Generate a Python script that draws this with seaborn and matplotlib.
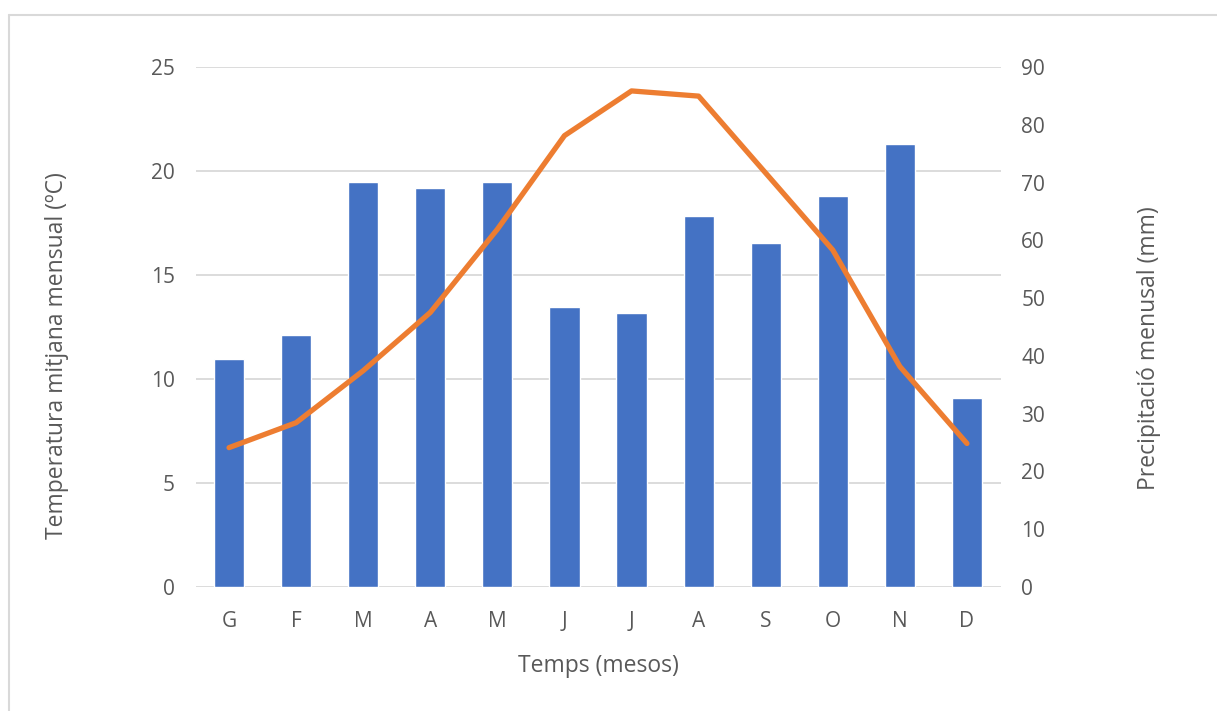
import numpy as np
import pandas as pd
import matplotlib
matplotlib.use("Agg")
import matplotlib.pyplot as plt
from matplotlib.lines import Line2D
import seaborn as sns

months = ["G", "F", "M", "A", "M", "J", "J", "A", "S", "O", "N", "D"]
precip_mm = [39.5, 43.6, 70.1, 69.0, 70.1, 48.5, 47.4, 64.2, 59.6, 67.6, 76.7, 32.7]
temp_c = [6.7, 7.9, 10.4, 13.2, 17.2, 21.7, 23.85, 23.6, 19.9, 16.2, 10.6, 6.9]

sns.set_theme(style="white")
plt.rcParams["font.family"] = ["Open Sans", "DejaVu Sans"]

GRAY = "#595959"
GRID = "#D9D9D9"
TICK_FS = 15
LAB_FS = 16.5

fig = plt.figure(figsize=(12.17, 7.11), dpi=100)
ax = fig.add_axes([195.5 / 1217, 1 - 587 / 711, 805 / 1217, 520 / 711])

pos = list(range(len(months)))
df = pd.DataFrame({"pos": pos, "mes": months, "precip": precip_mm, "temp": temp_c})

sns.barplot(data=df, x="pos", y="precip", color="#4472C4", saturation=1,
            width=0.45, ax=ax, zorder=2)
ax.set_ylim(0, 90)
ax.set_xlim(-0.5, 11.5)
ax.set_xticks(pos)
ax.set_xticklabels(months)

ax2 = ax.twinx()
sns.lineplot(data=df, x="pos", y="temp", color="#ED7D31", linewidth=3.8,
             ax=ax2, solid_capstyle="round", solid_joinstyle="round")
ax2.set_ylim(0, 25)
ax2.set_xlim(-0.5, 11.5)

# bar axis: precipitation ticks on the right
ax.yaxis.tick_right()
ax.yaxis.set_label_position("right")
ax.set_yticks(np.arange(0, 91, 10))
ax.set_yticks(np.arange(0, 91, 18), minor=True)
ax.yaxis.remove_overlapping_locs = False
ax.grid(False)
ax.grid(which="minor", axis="y", color=GRID, linewidth=1.3, zorder=0)
ax.set_axisbelow(True)
for s in ax.spines.values():
    s.set_visible(False)
ax.tick_params(axis="both", which="both", length=0, colors=GRAY, labelsize=TICK_FS)
ax.tick_params(axis="y", which="both", left=False, labelleft=False,
               right=False, labelright=True, pad=15)
ax.tick_params(axis="x", pad=17)
ax.set_ylabel("Precipitació menusal (mm)", color=GRAY, fontsize=LAB_FS)
ax.set_xlabel("Temps (mesos)", color=GRAY, fontsize=LAB_FS)
ax.yaxis.set_label_coords(1.170, 0.46)
ax.xaxis.set_label_coords(0.5, -0.128)

# line axis: temperature ticks on the left
ax2.yaxis.tick_left()
ax2.yaxis.set_label_position("left")
ax2.set_yticks(np.arange(0, 26, 5))
ax2.grid(False)
for s in ax2.spines.values():
    s.set_visible(False)
ax2.tick_params(axis="both", which="both", length=0, colors=GRAY, labelsize=TICK_FS)
ax2.tick_params(axis="y", left=False, labelleft=True, right=False, labelright=False, pad=15)
ax2.set_ylabel("Temperatura mitjana mensual (ºC)", color=GRAY, fontsize=LAB_FS)
ax2.yaxis.set_label_coords(-0.157, 0.445)
ax2.set_xlabel("")

# outer frame (top and left edges only)
fig.add_artist(Line2D([9 / 1217, 9 / 1217], [0, 1 - 15 / 711], transform=fig.transFigure,
                      color="#D9D9D9", linewidth=1.5))
fig.add_artist(Line2D([9 / 1217, 1], [1 - 15 / 711, 1 - 15 / 711], transform=fig.transFigure,
                      color="#D9D9D9", linewidth=1.5))

fig.savefig("out.png", dpi=100)
